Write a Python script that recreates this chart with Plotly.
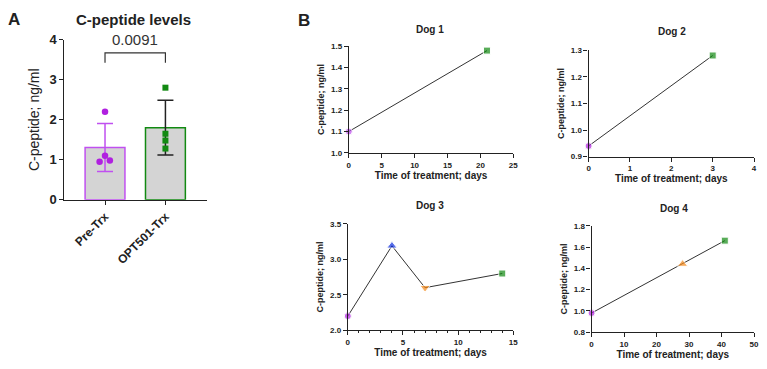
import numpy as np
import plotly.graph_objects as go

W, H = 767, 369

# ---------------- data ----------------
groups = ["Pre-Trx", "OPT501-Trx"]
pre_vals = [2.2, 1.1, 0.95, 0.98]
opt_vals = [2.8, 1.65, 1.48, 1.28]
pre_jitter = [0.0, 0.0, -0.09, 0.08]
opt_jitter = [0.0, 0.0, 0.0, 0.0]
p_value = "0.0091"
bracket_level = 3.67
bracket_drop = 3.42

dog1_days = [0, 21]
dog1_cpep = [1.10, 1.48]
dog2_days = [0, 3]
dog2_cpep = [0.94, 1.28]
dog3_days = [0, 4, 7, 14]
dog3_cpep = [2.20, 3.19, 2.60, 2.80]
dog4_days = [0, 28, 41]
dog4_cpep = [0.98, 1.44, 1.66]

# ---------------- styles ----------------
FONT = "Arial, Liberation Sans, sans-serif"
PURPLE = "#b020e0"
PURPLE_LIGHT = "#c050f0"
GREEN = "#128a12"
BLUE = "#1030e0"
ORANGE = "#f58a1a"

def px_x(a, b):
    return [a / W, b / W]

def px_y(top, bottom):
    return [(H - bottom) / H, (H - top) / H]

fig = go.Figure()

# ---------------- panel A ----------------
means = [np.mean(pre_vals), np.mean(opt_vals)]
sds = [np.std(pre_vals, ddof=1), np.std(opt_vals, ddof=1)]
for i, (col, m, s) in enumerate(zip([PURPLE_LIGHT, GREEN], means, sds)):
    fig.add_trace(go.Bar(
        x=[i], y=[m], width=0.66, marker=dict(color="#d4d4d4", line=dict(color=col, width=1.5)),
        error_y=dict(type="data", array=[s], visible=True, color=(PURPLE_LIGHT if i == 0 else "#222222"),
                     thickness=1.5, width=8),
        xaxis="x", yaxis="y", showlegend=False))

fig.add_trace(go.Scatter(x=[0 + j for j in pre_jitter], y=pre_vals, mode="markers",
                         marker=dict(color=PURPLE, size=6.5, symbol="circle"),
                         xaxis="x", yaxis="y", showlegend=False, cliponaxis=False))
fig.add_trace(go.Scatter(x=[1 + j for j in opt_jitter], y=opt_vals, mode="markers",
                         marker=dict(color=GREEN, size=6, symbol="square"),
                         xaxis="x", yaxis="y", showlegend=False, cliponaxis=False))

# significance bracket
fig.add_trace(go.Scatter(x=[0, 0, 1, 1], y=[bracket_drop, bracket_level, bracket_level, bracket_drop],
                         mode="lines", line=dict(color="#333333", width=1.2),
                         xaxis="x", yaxis="y", showlegend=False, hoverinfo="skip", cliponaxis=False))
fig.add_annotation(x=0.5, y=bracket_level, xref="x", yref="y", text=p_value, showarrow=False,
                   yanchor="bottom", yshift=3, font=dict(family=FONT, size=15, color="#333333"))

# ---------------- panel B dogs ----------------
dogs = [
    (dog1_days, dog1_cpep, ["circle", "square"], [PURPLE_LIGHT, GREEN], "x2", "y2"),
    (dog2_days, dog2_cpep, ["circle", "square"], [PURPLE, GREEN], "x3", "y3"),
    (dog3_days, dog3_cpep, ["circle", "triangle-up", "triangle-down", "square"], [PURPLE, BLUE, ORANGE, GREEN], "x4", "y4"),
    (dog4_days, dog4_cpep, ["circle", "triangle-up", "square"], [PURPLE, ORANGE, GREEN], "x5", "y5"),
]
for d, c, sym, cols, xa, ya in dogs:
    sizes = [9 if s.startswith("triangle") else 7 for s in sym]
    fig.add_trace(go.Scatter(x=d, y=c, mode="lines", line=dict(color="#333333", width=1),
                             xaxis=xa, yaxis=ya, showlegend=False, cliponaxis=False))
    fig.add_trace(go.Scatter(x=d, y=c, mode="markers",
                             marker=dict(color=cols, symbol=sym, size=sizes),
                             xaxis=xa, yaxis=ya, showlegend=False, cliponaxis=False))

axis_common = dict(showline=True, linecolor="#222222", linewidth=1.2, ticks="outside", ticklen=4,
                   tickcolor="#222222", showgrid=False, zeroline=False, fixedrange=True)

small_tick = dict(family=FONT, size=8, color="#222222", weight="bold")
small_title = dict(family=FONT, size=9, color="#222222", weight="bold")
xt_title = dict(family=FONT, size=10, color="#222222", weight="bold")

fig.update_layout(
    width=W, height=H, margin=dict(l=0, r=0, t=0, b=0),
    paper_bgcolor="white", plot_bgcolor="white", barmode="overlay",
    xaxis=dict(**axis_common, domain=px_x(63, 207), range=[-0.672, 1.69], tickvals=[0, 1], ticktext=groups,
               tickangle=-45, tickfont=dict(family=FONT, size=12, color="#222222", weight="bold"), anchor="y"),
    yaxis=dict(**axis_common, domain=px_y(34, 201), range=[0, 4], tickvals=[0, 1, 2, 3, 4],
               tickfont=dict(family=FONT, size=13, color="#222222", weight="bold"), anchor="x",
               title=dict(text="C-peptide; ng/ml", font=dict(family=FONT, size=14, color="#222222"), standoff=6)),
    xaxis2=dict(**axis_common, domain=px_x(350, 516), range=[0, 25], tickvals=[0, 5, 10, 15, 20, 25],
                tickfont=small_tick, anchor="y2",
                title=dict(text="Time of treatment; days", font=xt_title, standoff=2)),
    yaxis2=dict(**axis_common, domain=px_y(41, 152), range=[1.0, 1.5], tickvals=[1.0, 1.1, 1.2, 1.3, 1.4, 1.5],
                tickformat=".1f", tickfont=small_tick, anchor="x2",
                title=dict(text="C-peptide; ng/ml", font=small_title, standoff=4)),
    xaxis3=dict(**axis_common, domain=px_x(592, 759), range=[0, 4], tickvals=[0, 1, 2, 3, 4],
                tickfont=small_tick, anchor="y3",
                title=dict(text="Time of treatment; days", font=xt_title, standoff=2)),
    yaxis3=dict(**axis_common, domain=px_y(45, 156), range=[0.9, 1.3], tickvals=[0.9, 1.0, 1.1, 1.2, 1.3],
                tickformat=".1f", tickfont=small_tick, anchor="x3",
                title=dict(text="C-peptide; ng/ml", font=small_title, standoff=4)),
    xaxis4=dict(**axis_common, domain=px_x(349, 516), range=[0, 15], tickvals=[0, 5, 10, 15],
                tickfont=small_tick, anchor="y4",
                minor=dict(ticks="outside", ticklen=2, dtick=1, tickcolor="#222222", showgrid=False),
                title=dict(text="Time of treatment; days", font=xt_title, standoff=2)),
    yaxis4=dict(**axis_common, domain=px_y(226, 337), range=[2.0, 3.5], tickvals=[2.0, 2.5, 3.0, 3.5],
                tickformat=".1f", tickfont=small_tick, anchor="x4",
                title=dict(text="C-peptide; ng/ml", font=small_title, standoff=4)),
    xaxis5=dict(**axis_common, domain=px_x(595, 759), range=[0, 50], tickvals=[0, 10, 20, 30, 40, 50],
                tickfont=small_tick, anchor="y5",
                title=dict(text="Time of treatment; days", font=xt_title, standoff=2)),
    yaxis5=dict(**axis_common, domain=px_y(228, 339), range=[0.8, 1.8], tickvals=[0.8, 1.0, 1.2, 1.4, 1.6, 1.8],
                tickformat=".1f", tickfont=small_tick, anchor="x5",
                title=dict(text="C-peptide; ng/ml", font=small_title, standoff=4)),
)

def ann(text, x, y, size, bold=True, anchor="center"):
    fig.add_annotation(x=x / W, y=(H - y) / H, xref="paper", yref="paper", text=text, showarrow=False,
                       xanchor=anchor, yanchor="middle",
                       font=dict(family=FONT, size=size, color="#222222", weight="bold" if bold else "normal"))

ann("A", 4, 13, 17, anchor="left")
ann("B", 297, 14, 17, anchor="left")
ann("C-peptide levels", 133, 13, 15)
ann("Dog 1", 432, 23, 10)
ann("Dog 2", 676, 26, 10)
ann("Dog 3", 432, 207, 10)
ann("Dog 4", 678, 210, 10)

fig.write_html("out.html")
